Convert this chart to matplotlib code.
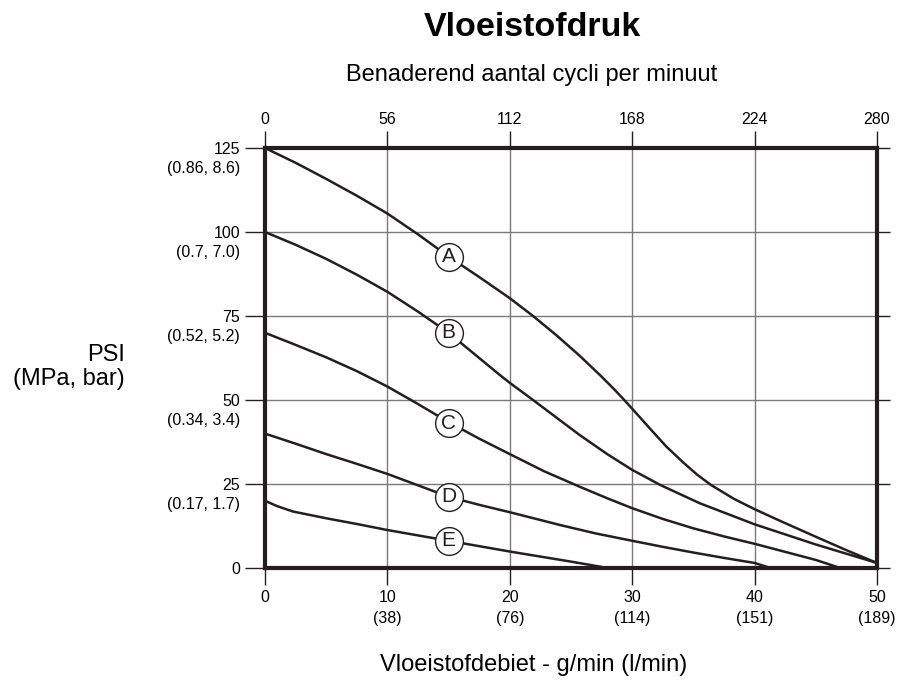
import matplotlib
matplotlib.use('Agg')
import matplotlib.pyplot as plt

plt.rcParams['font.family'] = ['Liberation Sans', 'DejaVu Sans']

# ---- data ----
flow_gpm = [0, 10, 20, 30, 40, 50]
flow_lpm = ['', '(38)', '(76)', '(114)', '(151)', '(189)']
cycles = [0, 56, 112, 168, 224, 280]
psi_ticks = [0, 25, 50, 75, 100, 125]
psi_metric = ['', '(0.17, 1.7)', '(0.34, 3.4)', '(0.52, 5.2)', '(0.7, 7.0)', '(0.86, 8.6)']

curve_names = ['A', 'B', 'C', 'D', 'E']
A_x = [0, 2.5, 5, 7.5, 10, 12.5, 15, 17.5, 20, 21.9, 23.8, 25.7, 27.4, 28.5, 29.4, 30,
       31.5, 32.8, 34.2, 35.3, 36.4, 38.3, 40, 42.1, 45, 47.5, 50]
A_y = [125, 120.6, 115.8, 110.8, 105.5, 99.3, 92.7, 86.6, 80.3, 75, 69.3, 63.2, 57.3, 53.3, 49.8, 47.4,
       41.3, 36.1, 31.3, 27.8, 24.8, 20.6, 17.5, 14.0, 9.3, 5.3, 1.5]
B_x = [0, 2.5, 5, 7.5, 10, 12.5, 15, 17.6, 19.2, 20, 21.9, 25.7, 28, 30, 32.3, 35.5, 40, 45, 50]
B_y = [100, 96.2, 92, 87.3, 82.2, 76.3, 70, 62.2, 57.4, 55.1, 50, 39.6, 33.8, 29.2, 24.7, 19.3, 13.0, 7.0, 1.5]
C_x = [0, 2.5, 5, 7.5, 10, 12.5, 15, 17.5, 20, 22.8, 25.7, 28, 30, 32.5, 35, 37.5, 40, 42.5, 45, 47]
C_y = [70, 66.4, 62.7, 58.6, 54, 48.8, 43.4, 38.5, 33.9, 28.8, 24.2, 20.7, 17.8, 14.6, 11.8, 9.4, 7.2, 4.8, 2.4, 0]
D_x = [0, 2.5, 5, 7.5, 10, 12.5, 15, 17.5, 20, 24.1, 27, 30, 32.5, 35, 37.5, 40, 41.3]
D_y = [40, 37, 33.9, 31, 28, 24.6, 21.2, 18.8, 16.6, 12.8, 10.3, 8.1, 6.3, 4.6, 3.0, 1.5, 0]
E_x = [0, 1, 2.3, 5, 7.5, 10, 12.5, 15, 17.5, 20, 22.5, 25, 28]
E_y = [20, 18.4, 16.8, 14.8, 13.1, 11.3, 9.7, 8.1, 6.5, 4.9, 3.4, 1.9, 0]
label_x = 15
label_y = [92.7, 70, 43.1, 21.2, 8.1]

curves_x = [A_x, B_x, C_x, D_x, E_x]
curves_y = [A_y, B_y, C_y, D_y, E_y]

INK = '#231f20'
GRID = '#7a7a7a'

fig = plt.figure(figsize=(9.09, 6.81), dpi=100)
W, H = 909, 681
ax = fig.add_axes([265 / W, 1 - 568 / H, 612 / W, 420 / H])
ax.set_xlim(0, 50)
ax.set_ylim(0, 125)

ax.grid(True, color=GRID, lw=1.0, zorder=0)
ax.set_axisbelow(True)
for s in ax.spines.values():
    s.set_linewidth(3)
    s.set_color(INK)
    s.set_zorder(5)

ax.set_xticks(flow_gpm)
ax.set_xticklabels([f'{g}\n{l}' if l else f'{g}' for g, l in zip(flow_gpm, flow_lpm)],
                   fontsize=11.5, linespacing=1.45)
ax.tick_params(axis='x', direction='out', length=12, width=1.0, color=INK, pad=4)

ax.set_yticks(psi_ticks)
ax.set_yticklabels([str(v) for v in psi_ticks], fontsize=11.5)
ax.tick_params(axis='y', direction='out', length=14.4, width=1.0, color=INK, pad=3.6)

for v, m in zip(psi_ticks, psi_metric):
    if m:
        ax.annotate(m, xy=(0, v), xycoords=('axes fraction', 'data'),
                    xytext=(-18, -15), textcoords='offset points',
                    ha='right', va='center', fontsize=11.5)

# top axis: cycles per minute
ax2 = ax.twiny()
ax2.set_xlim(cycles[0], cycles[-1])
ax2.set_xticks(cycles)
ax2.set_xticklabels([str(c) for c in cycles], fontsize=11.5)
ax2.tick_params(axis='x', direction='out', length=12, width=1.0, color=INK, pad=3)
for s in ax2.spines.values():
    s.set_visible(False)

# right side small ticks
ax3 = ax.twinx()
ax3.set_ylim(0, 125)
ax3.set_yticks(psi_ticks)
ax3.tick_params(axis='y', direction='out', length=9, width=1.0, color=INK, labelright=False)
for s in ax3.spines.values():
    s.set_visible(False)

for xs, ys in zip(curves_x, curves_y):
    ax.plot(xs, ys, color=INK, lw=1.8, solid_capstyle='round', solid_joinstyle='round',
            zorder=3, clip_on=False)

for name, ly in zip(curve_names, label_y):
    ax.plot([label_x], [ly], marker='o', ms=20, mfc='white', mec=INK, mew=1.0, zorder=6)
    ax.text(label_x, ly, name, ha='center', va='center', fontsize=15, color=INK, zorder=7)

fig.text(532 / W, 1 - 27 / H, 'Vloeistofdruk', ha='center', va='center',
         fontsize=24.5, fontweight='bold')
fig.text(532 / W, 1 - 75 / H, 'Benaderend aantal cycli per minuut', ha='center', va='center',
         fontsize=17)
fig.text(534 / W, 1 - 665 / H, 'Vloeistofdebiet - g/min (l/min)', ha='center', va='center',
         fontsize=17)
fig.text(125 / W, 1 - 367 / H, 'PSI\n(MPa, bar)', ha='right', va='center', multialignment='right',
         fontsize=17, linespacing=1.15)

fig.savefig('out.png', dpi=100)
